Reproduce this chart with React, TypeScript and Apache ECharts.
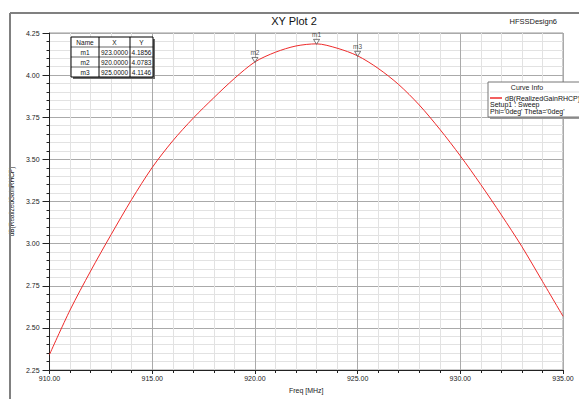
import React, { useEffect, useRef } from "react";
import * as echarts from "echarts";

const freqMHz = [910, 911, 912, 913, 914, 915, 916, 917, 918, 919, 920, 921, 922, 923, 924, 925, 926, 927, 928, 929, 930, 931, 932, 933, 934, 935];
const gainDb = [2.342, 2.606, 2.837, 3.054, 3.262, 3.452, 3.610, 3.745, 3.866, 3.980, 4.0783, 4.136, 4.173, 4.1856, 4.160, 4.1146, 4.040, 3.944, 3.823, 3.679, 3.521, 3.350, 3.170, 2.982, 2.776, 2.569];

const markerNames = ["m1", "m2", "m3"];
const markerFreq = [923, 920, 925];
const markerGain = [4.1856, 4.0783, 4.1146];

const xMin = 910;
const xMax = 935;
const xStep = 5;
const yMin = 2.25;
const yMax = 4.25;
const yStep = 0.25;

const titleText = "XY Plot 2";
const designName = "HFSSDesign6";
const xAxisName = "Freq [MHz]";
const yAxisName = "dB(RealizedGainRHCP)";
const tableHeaders = ["Name", "X", "Y"];
const legendTitle = "Curve Info";
const legendSeries = "dB(RealizedGainRHCP)";
const legendLines = ["Setup1 : Sweep", "Phi='0deg' Theta='0deg'"];

const FONT = "Liberation Sans, Arial, sans-serif";
const RED = "#ee2a2a";

export default function App() {
  const ref = useRef<HTMLDivElement>(null);

  useEffect(() => {
    if (!ref.current) return;
    const chart = echarts.init(ref.current, null, { renderer: "svg" });

    // marker table
    const tX = 71, tY = 37, colW = [28, 31, 23], rowH = 10;
    const tW = colW[0] + colW[1] + colW[2];
    const tH = rowH * (markerNames.length + 1);
    const tableEls: any[] = [
      { type: "rect", shape: { x: tX + 2, y: tY + 2, width: tW, height: tH }, style: { fill: "#6a6a6a" }, z: 100 },
      { type: "rect", shape: { x: tX, y: tY, width: tW, height: tH }, style: { fill: "#fff", stroke: "#000", lineWidth: 1 }, z: 101 },
    ];
    let cx = tX;
    const colCenters: number[] = [];
    colW.forEach((w, i) => {
      colCenters.push(cx + w / 2);
      cx += w;
      if (i < colW.length - 1)
        tableEls.push({ type: "line", shape: { x1: cx, y1: tY, x2: cx, y2: tY + tH }, style: { stroke: "#000", lineWidth: 1 }, z: 102 });
    });
    for (let r = 1; r <= markerNames.length; r++) {
      tableEls.push({ type: "line", shape: { x1: tX, y1: tY + r * rowH, x2: tX + tW, y2: tY + r * rowH }, style: { stroke: "#000", lineWidth: 0.6 }, z: 102 });
    }
    const rows = [tableHeaders, ...markerNames.map((n, i) => [n, markerFreq[i].toFixed(4), markerGain[i].toFixed(4)])];
    rows.forEach((row, r) => {
      row.forEach((txt, c) => {
        tableEls.push({
          type: "text", z: 103,
          style: { text: txt, x: colCenters[c], y: tY + r * rowH + rowH / 2 + 0.5, align: "center", verticalAlign: "middle", fontSize: 6.5, fontFamily: FONT, fill: "#111" },
        });
      });
    });

    // legend box
    const lX = 488, lY = 82, lW = 96, lH = 35;
    const legendEls: any[] = [
      { type: "rect", shape: { x: lX + 2, y: lY + 2, width: lW, height: lH }, style: { fill: "#9a9a9a" }, z: 100 },
      { type: "rect", shape: { x: lX, y: lY, width: lW, height: lH }, style: { fill: "#fff", stroke: "#777", lineWidth: 1 }, z: 101 },
      { type: "text", z: 102, style: { text: legendTitle, x: 527, y: 87, align: "center", verticalAlign: "middle", fontSize: 7, fontFamily: FONT, fill: "#222" } },
      { type: "line", z: 102, shape: { x1: lX + 2, y1: 92, x2: lX + lW, y2: 92 }, style: { stroke: "#ddd", lineWidth: 1 } },
      { type: "line", z: 102, shape: { x1: 490, y1: 98, x2: 502, y2: 98 }, style: { stroke: RED, lineWidth: 1.5 } },
      { type: "text", z: 102, style: { text: legendSeries, x: 505, y: 98, align: "left", verticalAlign: "middle", fontSize: 7, fontFamily: FONT, fill: "#111" } },
      ...legendLines.map((t, i) => ({ type: "text", z: 102, style: { text: t, x: 490, y: 104.5 + i * 6.8, align: "left", verticalAlign: "middle", fontSize: 7, fontFamily: FONT, fill: "#111" } })),
    ];

    chart.setOption({
      animation: false,
      backgroundColor: "#fff",
      grid: { left: 47, right: 16, top: 33, bottom: 22, show: true, borderColor: "#999", borderWidth: 1 },
      xAxis: {
        type: "value", min: xMin, max: xMax, interval: xStep,
        name: xAxisName, nameLocation: "middle", nameGap: 17,
        nameTextStyle: { fontSize: 7, fontFamily: FONT, color: "#222" },
        axisLine: { show: true, onZero: false, lineStyle: { color: "#222", width: 1 } },
        axisTick: { show: true, length: 4, lineStyle: { color: "#222" } },
        minorTick: { show: true, splitNumber: 5, length: 3, lineStyle: { color: "#222" } },
        axisLabel: { fontSize: 7, fontFamily: FONT, color: "#222", margin: 5, formatter: (v: number) => v.toFixed(2) },
        splitLine: { show: true, lineStyle: { color: "#aaaaaa", width: 1 } },
        minorSplitLine: { show: true, lineStyle: { color: "#e2e2e2", width: 1 } },
      },
      yAxis: {
        type: "value", min: yMin, max: yMax, interval: yStep,
        name: yAxisName, nameLocation: "middle", nameGap: 28,
        nameTextStyle: { fontSize: 6.5, fontFamily: FONT, color: "#222" },
        axisLine: { show: true, onZero: false, lineStyle: { color: "#222", width: 1 } },
        axisTick: { show: true, length: 7, lineStyle: { color: "#222" } },
        minorTick: { show: true, splitNumber: 5, length: 3, lineStyle: { color: "#222" } },
        axisLabel: { fontSize: 7, fontFamily: FONT, color: "#222", margin: 10, formatter: (v: number) => v.toFixed(2) },
        splitLine: { show: true, lineStyle: { color: "#aaaaaa", width: 1 } },
        minorSplitLine: { show: true, lineStyle: { color: "#e2e2e2", width: 1 } },
      },
      series: [
        {
          type: "line",
          data: freqMHz.map((f, i) => [f, gainDb[i]]),
          showSymbol: false,
          smooth: 0.3,
          lineStyle: { color: RED, width: 1 },
          z: 3,
        },
        {
          type: "scatter",
          data: markerNames.map((n, i) => ({ name: n, value: [markerFreq[i], markerGain[i]] })),
          symbol: "triangle",
          symbolRotate: 180,
          symbolSize: [6, 5],
          symbolOffset: [0, -2],
          itemStyle: { color: "#fff", borderColor: "#333", borderWidth: 0.8 },
          label: { show: true, position: "top", distance: 1, formatter: (p: any) => p.name, fontSize: 6.5, fontFamily: FONT, color: "#222" },
          z: 4,
        },
      ],
      graphic: [
        { type: "line", shape: { x1: 10, y1: 13, x2: 579, y2: 13 }, style: { stroke: "#808080", lineWidth: 2 }, z: 50 },
        { type: "line", shape: { x1: 10, y1: 13, x2: 10, y2: 399 }, style: { stroke: "#808080", lineWidth: 2 }, z: 50 },
        { type: "text", z: 50, style: { text: titleText, x: 294, y: 21, align: "center", verticalAlign: "middle", fontSize: 11, fontFamily: FONT, fill: "#111" } },
        { type: "text", z: 50, style: { text: designName, x: 557, y: 21, align: "right", verticalAlign: "middle", fontSize: 7.5, fontFamily: FONT, fill: "#222" } },
        ...tableEls,
        ...legendEls,
      ],
    });

    return () => chart.dispose();
  }, []);

  return <div ref={ref} style={{ position: "fixed", left: 0, top: 0, width: 579, height: 399, background: "#fff" }} />;
}
